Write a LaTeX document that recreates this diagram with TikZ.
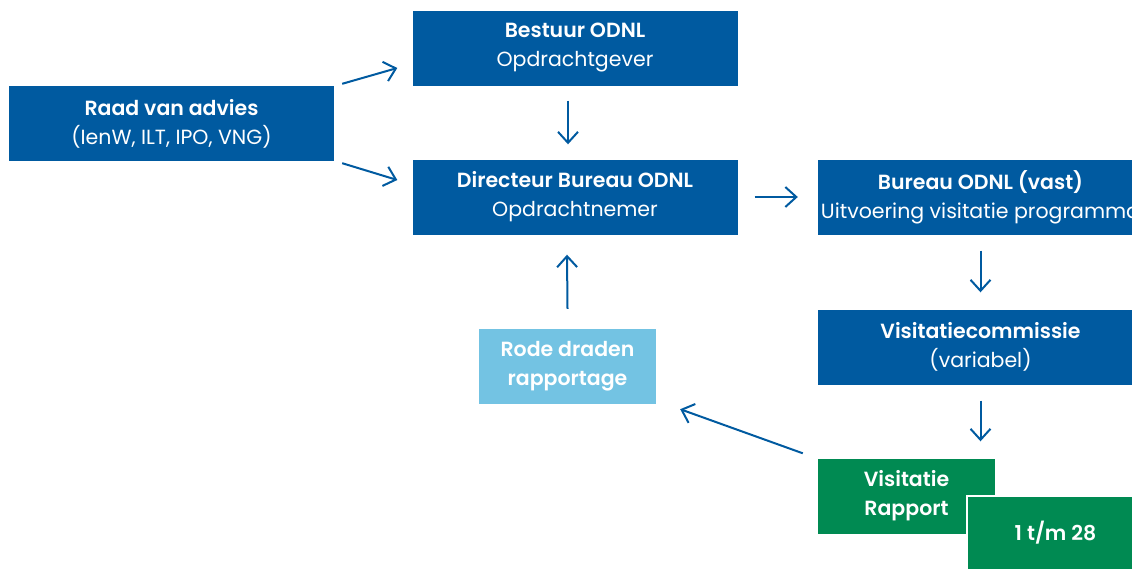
\documentclass[tikz,border=0pt]{standalone}
\usepackage{fontspec}
\setmainfont{Poppins}[BoldFont={Poppins SemiBold}]
\usetikzlibrary{arrows.meta}
\definecolor{odnlblue}{RGB}{0,90,160}
\definecolor{odnllight}{RGB}{115,195,227}
\definecolor{odnlgreen}{RGB}{0,138,82}

\begin{document}
\begin{tikzpicture}[x=1pt,y=-1pt,
  box/.style={fill=odnlblue, text=white, align=center, inner sep=0pt,
    minimum width=325pt, minimum height=75pt, font=\fontsize{20.5}{29}\selectfont},
  smallbox/.style={box, minimum width=177pt},
  arr/.style={draw=odnlblue, line width=2pt, -{Straight Barb[length=11pt,width=20pt]}}]
  \useasboundingbox (0,0) rectangle (1132,568);
  \clip (0,0) rectangle (1132,568);
  % boxes
  \node[box] (raad) at (171.5,123.5) {\textbf{Raad van advies}\\(IenW, ILT, IPO, VNG)};
  \node[box] (bestuur) at (575,48) {\textbf{Bestuur ODNL}\\Opdrachtgever};
  \node[box] (directeur) at (575,197) {\textbf{Directeur Bureau ODNL}\\Opdrachtnemer};
  \node[box] (bureau) at (980.5,197) {\textbf{Bureau ODNL (vast)}\\Uitvoering visitatie programma};
  \node[box] (commissie) at (980.5,347) {\textbf{Visitatiecommissie}\\(variabel)};
  \node[smallbox, fill=odnllight] (rode) at (567.5,366.5) {\textbf{Rode draden}\\\textbf{rapportage}};
  \node[smallbox, fill=odnlgreen] (rapport) at (906.5,496) {\textbf{Visitatie}\\\textbf{Rapport}};
  \node[smallbox, fill=odnlgreen, draw=white, line width=2pt] (reeks) at (1055.5,533) {\textbf{1 t/m 28}};
  % arrows
  \draw[arr] ([shift={(8,-2)}]raad.north east) -- ([shift={(-15,20)}]bestuur.west);
  \draw[arr] ([shift={(8,2)}]raad.south east) -- ([shift={(-15,-17)}]directeur.west);
  \draw[arr] ([shift={(-7,15)}]bestuur.south) -- ([shift={(-7,-15)}]directeur.north);
  \draw[arr] ([shift={(17,0)}]directeur.east) -- ([shift={(-20,0)}]bureau.west);
  \draw[arr] ([shift={(0,16)}]bureau.south) -- ([shift={(0,-17)}]commissie.north);
  \draw[arr] ([shift={(0,16)}]commissie.south) -- ([shift={(0,-17)}]commissie.south |- rapport.north);
  \draw[arr] ([shift={(-15,-5)}]rapport.north west) -- ([shift={(24,5)}]rode.south east);
  \draw[arr] ([shift={(0,-20)}]rode.north) -- ([shift={(-8,20)}]directeur.south);
\end{tikzpicture}
\end{document}
